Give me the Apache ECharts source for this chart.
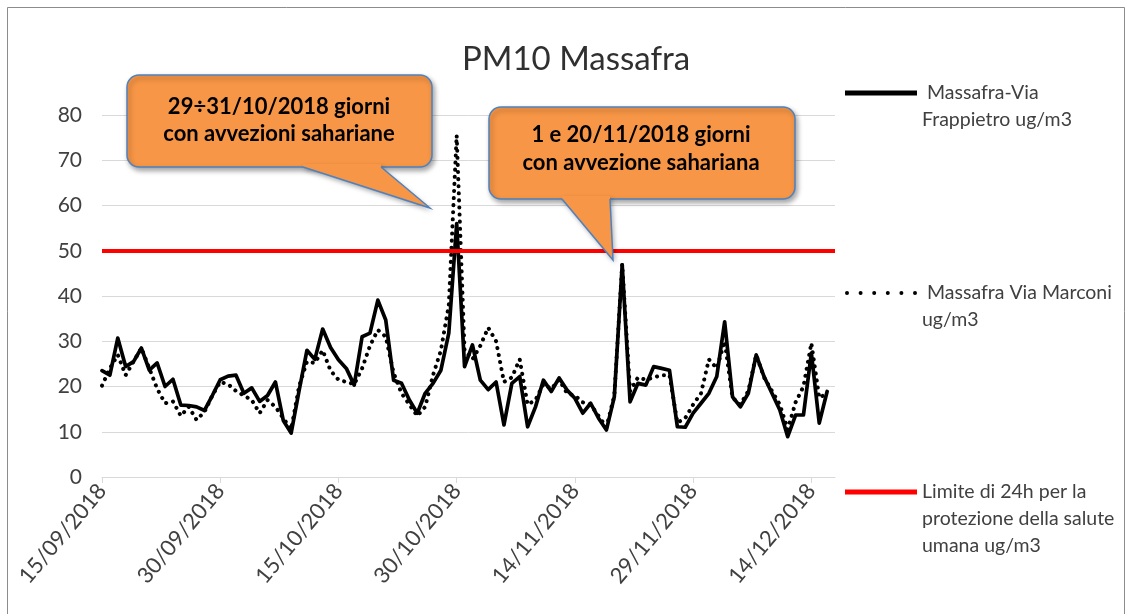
<!DOCTYPE html>
<html><head><meta charset="utf-8">
<script src="https://cdn.jsdelivr.net/npm/echarts@6/dist/echarts.min.js"></script>
<style>html,body{margin:0;padding:0;background:#fff}#c{width:1131px;height:614px}</style>
</head><body><div id="c"></div>
<script>
// ---- data ----
const startYear = 2018, startMonth = 9, startDay = 15;   // 15/09/2018
const dayCount = 94;                                      // axis runs 15/09 .. 17/12
const seriesNames = ['Massafra-Via Frappietro ug/m3', 'Massafra Via Marconi ug/m3', 'Limite di 24h per la protezione della salute umana ug/m3'];
const frappietro = [23.5, 22.5, 30.7, 24.4, 25.5, 28.5, 23.6, 25.2, 20.0, 21.6,
  15.9, 15.8, 15.5, 14.7, 18.0, 21.5, 22.3, 22.5, 18.5, 19.7,
  16.7, 18.0, 21.0, 12.5, 9.7, 19.0, 28.0, 26.0, 32.7, 28.6,
  25.9, 24.0, 20.3, 31.0, 31.8, 39.1, 34.7, 21.4, 20.7, 17.0,
  14.1, 18.5, 20.7, 23.6, 31.8, 56.0, 24.4, 29.2, 21.4, 19.3,
  21.0, 11.5, 20.7, 22.2, 11.1, 15.5, 21.4, 18.9, 21.9, 19.2,
  17.4, 14.1, 16.3, 13.0, 10.4, 17.7, 46.9, 16.6, 20.7, 20.3,
  24.4, 24.0, 23.6, 11.1, 11.0, 14.1, 16.3, 18.5, 22.2, 34.3,
  17.7, 15.5, 18.5, 27.0, 22.2, 18.5, 14.8, 8.9, 13.7, 13.7,
  27.4, 11.9, 18.9];
const marconi = [20.2, 24.0, 27.0, 22.5, 25.5, 28.5, 24.0, 19.5, 16.3, 16.7,
  13.5, 15.5, 12.6, 14.4, 18.0, 21.0, 20.5, 19.0, 18.0, 17.0,
  14.1, 17.0, 15.5, 13.0, 10.5, 20.0, 25.5, 25.2, 28.0, 23.5,
  21.5, 21.0, 20.5, 24.0, 29.0, 32.5, 31.0, 23.0, 18.5, 16.0,
  13.5, 15.5, 22.5, 28.0, 38.0, 75.5, 28.0, 26.0, 29.0, 33.0,
  30.0, 21.0, 22.0, 26.0, 16.0, 17.0, 20.5, 19.5, 21.5, 18.5,
  18.0, 16.5, 16.0, 13.5, 11.0, 18.0, 47.0, 19.0, 22.0, 21.5,
  22.0, 22.5, 22.5, 12.0, 13.0, 16.0, 18.5, 26.0, 24.0, 30.0,
  17.5, 16.0, 19.0, 27.0, 22.0, 19.0, 16.0, 10.5, 16.5, 20.0,
  29.6, 17.5, 18.5];
const limitValue = 50;
const yMin = 0, yMax = 80, yStep = 10;
const xLabelStep = 15;
const callout1Lines = ['29÷31/10/2018 giorni', 'con avvezioni sahariane'];
const callout2Lines = ['1 e 20/11/2018 giorni', 'con avvezione sahariana'];

// ---- categories (consecutive days) ----
const pad = n => (n < 10 ? '0' : '') + n;
const categories = [];
for (let i = 0; i < dayCount; i++) {
  const d = new Date(Date.UTC(startYear, startMonth - 1, startDay + i));
  categories.push(pad(d.getUTCDate()) + '/' + pad(d.getUTCMonth() + 1) + '/' + d.getUTCFullYear());
}

const FONT = 'Lato';
const TXT = '#404040';
const ORANGE = '#F79646', BLUE = '#4f81bd';
const chart = echarts.init(document.getElementById('c'), null, {renderer: 'canvas'});

const dotsIcon = 'path://M0,2a2,2 0 1,0 4,0a2,2 0 1,0 -4,0M13.6,2a2,2 0 1,0 4,0a2,2 0 1,0 -4,0M27.2,2a2,2 0 1,0 4,0a2,2 0 1,0 -4,0M40.8,2a2,2 0 1,0 4,0a2,2 0 1,0 -4,0M54.4,2a2,2 0 1,0 4,0a2,2 0 1,0 -4,0M68,2a2,2 0 1,0 4,0a2,2 0 1,0 -4,0';

const legendBase = {
  orient: 'vertical', left: 845, padding: 0, itemWidth: 72, selectedMode: false,
  textStyle: {fontFamily: FONT, fontSize: 19.5, lineHeight: 27, color: TXT}
};

const shadow = {shadowBlur: 5, shadowOffsetX: 2, shadowOffsetY: 3, shadowColor: 'rgba(0,0,0,0.35)'};
function callout(box, tail, lines, cx, ys) {
  return [
    {type: 'rect', z: 100, silent: true, shape: {x: box[0], y: box[1], width: box[2], height: box[3], r: 12},
      style: Object.assign({fill: ORANGE, stroke: BLUE, lineWidth: 1.5}, shadow)},
    {type: 'polygon', z: 101, silent: true,
      shape: {points: [[tail[0][0], tail[0][1] - 3], tail[0], tail[1], tail[2], [tail[2][0], tail[2][1] - 3]]},
      style: Object.assign({fill: ORANGE}, shadow)},
    {type: 'polyline', z: 102, silent: true, shape: {points: [tail[0], tail[1], tail[2]]},
      style: {stroke: BLUE, lineWidth: 1.5, fill: null}},
    {type: 'text', z: 103, silent: true,
      style: {text: lines[0], x: cx, y: ys[0], align: 'center', verticalAlign: 'middle', font: 'bold 22px Lato', fill: '#000'}},
    {type: 'text', z: 103, silent: true,
      style: {text: lines[1], x: cx, y: ys[1], align: 'center', verticalAlign: 'middle', font: 'bold 22px Lato', fill: '#000'}}
  ];
}

chart.setOption({
  backgroundColor: '#fff',
  animation: false,
  title: {
    text: 'PM10 Massafra', left: 457, top: 38,
    textStyle: {fontFamily: FONT, fontSize: 33, fontWeight: 'normal', color: '#303030'}
  },
  grid: {left: 102, right: 296, top: 115, bottom: 137},
  legend: [
    Object.assign({}, legendBase, {
      top: 93 - 40.5, data: [seriesNames[0]], icon: 'rect', itemHeight: 5,
      formatter: () => '\n Massafra-Via\nFrappietro ug/m3'
    }),
    Object.assign({}, legendBase, {
      top: 293 - 40.5, data: [seriesNames[1]], icon: dotsIcon, itemHeight: 4,
      formatter: () => '\n Massafra Via Marconi\nug/m3'
    }),
    Object.assign({}, legendBase, {
      top: 492 - 67.5, data: [seriesNames[2]], icon: 'rect', itemHeight: 5,
      formatter: () => '\n\nLimite di 24h per la\nprotezione della salute\numana ug/m3'
    })
  ],
  xAxis: {
    type: 'category', data: categories, boundaryGap: false,
    axisLine: {lineStyle: {color: '#d9d9d9', width: 1}},
    axisTick: {show: true, interval: xLabelStep - 1, length: 6, lineStyle: {color: '#d9d9d9'}},
    axisLabel: {interval: xLabelStep - 1, rotate: 50, margin: 10, fontFamily: FONT, fontSize: 22, color: TXT},
    splitLine: {show: false}
  },
  yAxis: {
    type: 'value', min: yMin, max: yMax, interval: yStep,
    axisLine: {show: false}, axisTick: {show: false},
    axisLabel: {margin: 20, fontFamily: FONT, fontSize: 21, color: TXT},
    splitLine: {lineStyle: {color: '#d9d9d9', width: 1}}
  },
  series: [
    {
      name: seriesNames[0], type: 'line', data: frappietro, symbol: 'none', z: 3,
      itemStyle: {color: '#000'},
      lineStyle: {color: '#000', width: 3.7, join: 'round', cap: 'round'}
    },
    {
      name: seriesNames[1], type: 'line', data: marconi, symbol: 'none', z: 4,
      itemStyle: {color: '#000'},
      lineStyle: {color: '#000', width: 4, type: [0.1, 7], cap: 'round', join: 'round'}
    },
    {
      name: seriesNames[2], type: 'line', data: [], symbol: 'none', z: 5,
      itemStyle: {color: '#ff0000'},
      lineStyle: {color: '#ff0000', width: 4},
      markLine: {
        silent: true, symbol: 'none', z: 5,
        label: {show: false},
        lineStyle: {color: '#ff0000', width: 4, type: 'solid'},
        data: [{yAxis: limitValue}]
      }
    }
  ],
  graphic: [
    {type: 'rect', z: 0, silent: true, shape: {x: 7.5, y: 7.5, width: 1117, height: 640},
      style: {fill: 'none', stroke: '#8c8c8c', lineWidth: 1}}
  ].concat(
    callout([127, 75, 305, 92], [[303, 167], [430, 208], [381, 167]], callout1Lines, 279, [107, 134]),
    callout([489, 107, 306, 92], [[562, 199], [613, 260], [610, 199]], callout2Lines, 641, [135, 163])
  )
});
</script></body></html>
